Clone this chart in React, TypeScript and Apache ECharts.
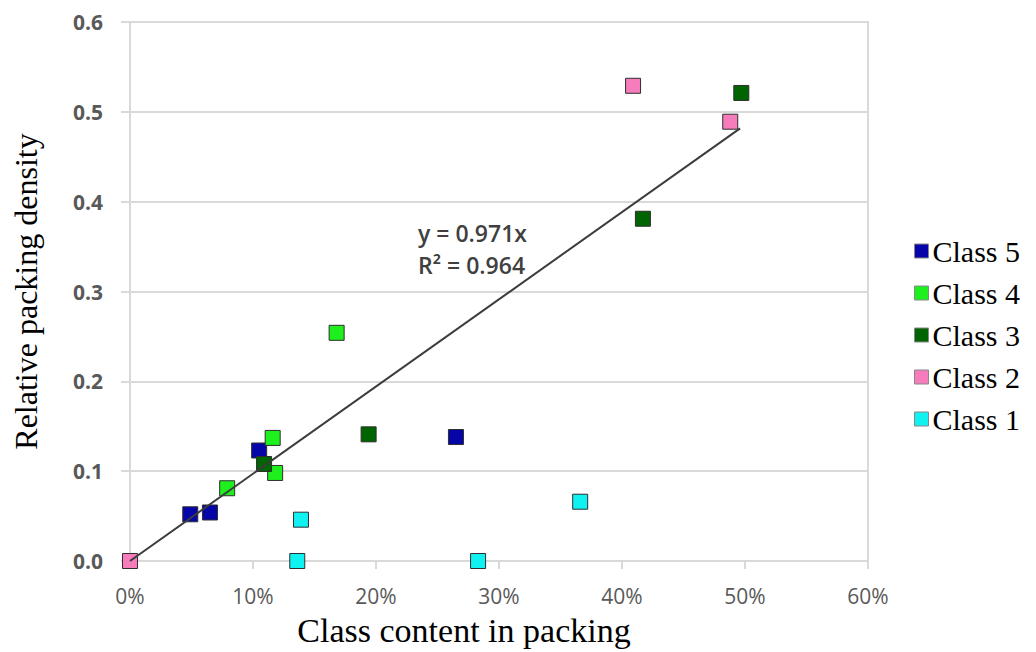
import React, { useEffect, useRef } from "react";
import * as echarts from "echarts";

const xTicks = ["0%", "10%", "20%", "30%", "40%", "50%", "60%"];
const yTicks = ["0.0", "0.1", "0.2", "0.3", "0.4", "0.5", "0.6"];

const seriesNames = ["Class 5", "Class 4", "Class 3", "Class 2", "Class 1"];
const seriesColors = ["#0606a8", "#1ef01e", "#006400", "#f77cbc", "#10f2f2"];

const class5: number[][] = [
  [0.049, 0.052],
  [0.065, 0.054],
  [0.105, 0.123],
  [0.265, 0.138],
];
const class4: number[][] = [
  [0.079, 0.081],
  [0.116, 0.137],
  [0.118, 0.098],
  [0.168, 0.254],
];
const class3: number[][] = [
  [0.109, 0.108],
  [0.194, 0.141],
  [0.417, 0.381],
  [0.497, 0.521],
];
const class2: number[][] = [
  [0.0, 0.0],
  [0.409, 0.529],
  [0.488, 0.489],
];
const class1: number[][] = [
  [0.136, 0.0],
  [0.139, 0.046],
  [0.283, 0.0],
  [0.366, 0.066],
];

const trendLine: number[][] = [
  [0.0, 0.0],
  [0.496, 0.4816],
];
const equationLines = ["y = 0.971x", "R² = 0.964"];

export default function App() {
  const ref = useRef<HTMLDivElement>(null);
  useEffect(() => {
    if (!ref.current) return;
    const chart = echarts.init(ref.current, undefined, { renderer: "svg" });
    const datasets = [class5, class4, class3, class2, class1];
    const scatterSeries = datasets.map((d, i) => ({
      name: seriesNames[i],
      type: "scatter",
      data: d,
      symbol: "rect",
      symbolSize: 15,
      itemStyle: {
        color: seriesColors[i],
        opacity: 1,
        borderColor: "#2e2e2e",
        borderWidth: 1,
      },
      z: 3,
    }));
    chart.setOption({
      animation: false,
      backgroundColor: "#ffffff",
      grid: {
        left: 130,
        right: 168,
        top: 22,
        bottom: 86,
        show: true,
        borderColor: "#d9d9d9",
        borderWidth: 2,
      },
      legend: {
        orient: "vertical",
        left: 914,
        top: 236,
        padding: 0,
        itemWidth: 14,
        itemHeight: 14,
        itemGap: 12,
        icon: "rect",
        data: seriesNames.map((n, i) => ({
          name: n,
          itemStyle: { color: seriesColors[i], opacity: 1, borderColor: "#888", borderWidth: 1 },
        })),
        textStyle: {
          fontFamily: "Liberation Serif",
          fontSize: 30,
          color: "#000",
          lineHeight: 30,
          padding: [0, 0, 0, -1],
        },
      },
      xAxis: {
        type: "value",
        min: 0,
        max: 0.6,
        interval: 0.1,
        name: "Class content in packing",
        nameLocation: "middle",
        nameGap: 52,
        nameTextStyle: {
          fontFamily: "Liberation Serif",
          fontSize: 34,
          color: "#000",
          padding: [0, 70, 0, 0],
        },
        axisLine: { show: true, lineStyle: { color: "#d9d9d9", width: 2 } },
        axisTick: { show: true, length: 8, lineStyle: { color: "#d9d9d9", width: 2 } },
        splitLine: { show: false },
        axisLabel: {
          margin: 24,
          fontFamily: "Open Sans",
          fontSize: 21,
          color: "#595959",
          formatter: (v: number) => xTicks[Math.round(v * 10)] ?? "",
        },
      },
      yAxis: {
        type: "value",
        min: 0,
        max: 0.6,
        interval: 0.1,
        name: "Relative packing density",
        nameLocation: "middle",
        nameGap: 88,
        nameTextStyle: { fontFamily: "Liberation Serif", fontSize: 32, color: "#000" },
        axisLine: { show: true, lineStyle: { color: "#d9d9d9", width: 2 } },
        axisTick: { show: true, length: 9, lineStyle: { color: "#d9d9d9", width: 2 } },
        splitLine: { show: true, lineStyle: { color: "#d9d9d9", width: 2 } },
        axisLabel: {
          margin: 27,
          fontFamily: "Open Sans",
          fontSize: 21,
          fontWeight: "bold",
          color: "#595959",
          formatter: (v: number) => yTicks[Math.round(v * 10)] ?? "",
        },
      },
      series: [
        ...scatterSeries,
        {
          name: "Trend",
          type: "line",
          data: trendLine,
          symbol: "none",
          lineStyle: { color: "#3c3c3c", width: 2 },
          z: 4,
          silent: true,
        },
      ],
      graphic: [
        {
          type: "text",
          left: 418,
          top: 217,
          style: {
            text: equationLines.join("\n"),
            fontFamily: "Open Sans",
            fontSize: 23,
            fontWeight: 600,
            lineHeight: 32,
            fill: "#404040",
          },
        },
      ],
    });
    return () => chart.dispose();
  }, []);
  return (
    <div
      ref={ref}
      style={{ position: "fixed", left: 0, top: 0, width: 1036, height: 652 }}
    />
  );
}
